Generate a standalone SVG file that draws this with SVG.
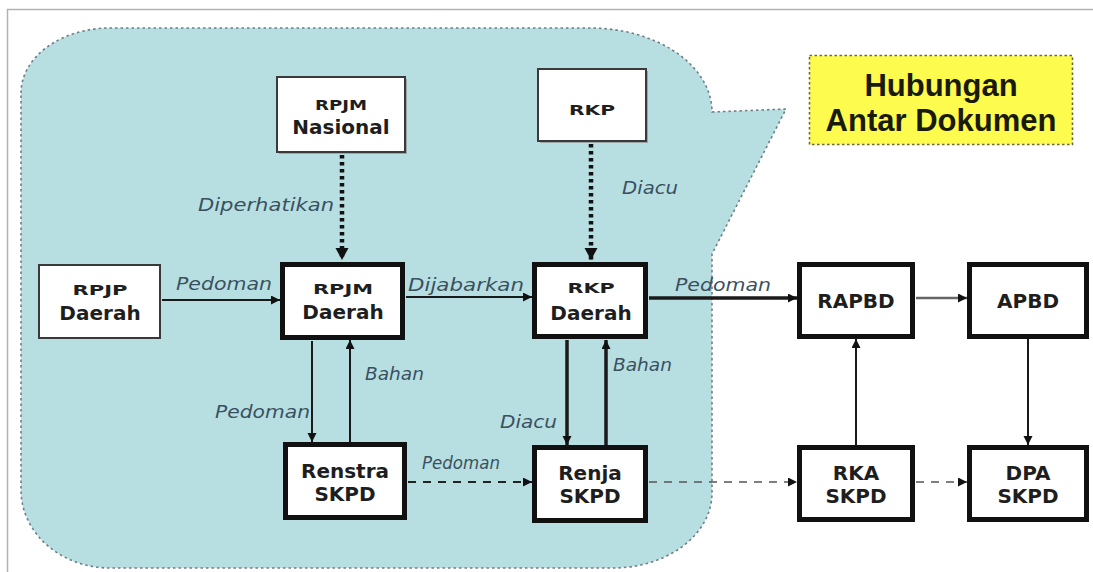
<svg xmlns="http://www.w3.org/2000/svg" width="1093" height="572" viewBox="0 0 1093 572">
<defs>
<style>
.frame{stroke:#b8b0b0;stroke-width:1.5;fill:none}
.callout{fill:#b7dfe2;stroke:#6e7f86;stroke-width:1.6;stroke-dasharray:2.5 3}
.thick{fill:#fff;stroke:#111;stroke-width:5}
.thin{fill:#fff;stroke:#3a3a3a;stroke-width:2}
.shadow{fill:#9aa6a8}
.nt{font-family:"DejaVu Sans",sans-serif;font-weight:bold;font-size:20px;fill:#1e1e1e;text-anchor:middle}
.ns{font-family:"DejaVu Sans",sans-serif;font-weight:bold;font-size:14px;fill:#1e1e1e;text-anchor:middle}
.lbl{font-family:"DejaVu Sans",sans-serif;font-style:italic;font-size:18px;fill:#3a5060}
.title{font-family:"Liberation Sans",Arial,sans-serif;font-weight:bold;font-size:31px;fill:#1a1a0a;text-anchor:middle}
.ln{fill:none;stroke:#1a1a1a;stroke-width:2}
.lnt{fill:none;stroke:#1a1a1a;stroke-width:3.5}
.dot{fill:none;stroke:#111;stroke-width:4.5;stroke-dasharray:3.5 3.5}
.dash{fill:none;stroke:#222;stroke-width:2;stroke-dasharray:8 7}
.dashl{fill:none;stroke:#555;stroke-width:1.5;stroke-dasharray:8 7}
</style>
<marker id="ah" markerUnits="userSpaceOnUse" markerWidth="10" markerHeight="10" refX="9" refY="4.5" orient="auto">
<path d="M0,0 L9,4.5 L0,9 z" fill="#111"/>
</marker>
<marker id="ahb" markerUnits="userSpaceOnUse" markerWidth="14" markerHeight="14" refX="12" refY="6.5" orient="auto">
<path d="M0,0 L12,6.5 L0,13 z" fill="#111"/>
</marker>
</defs>

<g id="frame">
<line class="frame" x1="7" y1="9.5" x2="1093" y2="9.5"/>
<line class="frame" x1="7.5" y1="9" x2="7.5" y2="572"/>
</g>

<g id="callout">
<path class="callout" d="M21,93 A89 65 0 0 1 110,28 L590,28 A122 84 0 0 1 712,112 L786,109 L712,254 L712,493 A99 75 0 0 1 613,568 L110,568 A89 78 0 0 1 21,490 Z"/>
</g>

<g id="title">
<rect x="809.5" y="55.5" width="263" height="89" fill="#fdfb4e" stroke="#6a6a40" stroke-width="1.6" stroke-dasharray="2.5 2.5"/>
<text class="title" x="941" y="96">Hubungan</text>
<text class="title" x="941" y="131">Antar Dokumen</text>
</g>

<g id="connectors">
<line class="dot" x1="342" y1="155" x2="342" y2="260" marker-end="url(#ahb)"/>
<line class="dot" x1="591" y1="144" x2="591" y2="260" marker-end="url(#ahb)"/>
<line class="ln" x1="162" y1="300" x2="280" y2="300" marker-end="url(#ah)"/>
<line class="ln" x1="406" y1="297" x2="532" y2="297" marker-end="url(#ah)"/>
<line class="lnt" x1="649" y1="298" x2="797" y2="298" marker-end="url(#ah)"/>
<line fill="none" stroke="#666" stroke-width="2.5" x1="916" y1="298" x2="967" y2="298" marker-end="url(#ah)"/>
<line class="ln" x1="312" y1="341" x2="312" y2="442" marker-end="url(#ah)"/>
<line class="ln" x1="350" y1="442" x2="350" y2="340" marker-end="url(#ah)"/>
<line class="lnt" x1="567" y1="340" x2="567" y2="445" marker-end="url(#ah)"/>
<line class="lnt" x1="606" y1="445" x2="606" y2="340" marker-end="url(#ah)"/>
<line class="ln" x1="856" y1="445" x2="856" y2="339" stroke-width="1.6" marker-end="url(#ah)"/>
<line class="ln" x1="1028" y1="339" x2="1028" y2="445" stroke-width="1.6" marker-end="url(#ah)"/>
<line class="dash" x1="408" y1="482" x2="532" y2="482" marker-end="url(#ah)"/>
<line class="dashl" x1="649" y1="482" x2="797" y2="482" marker-end="url(#ah)"/>
<line class="dashl" x1="916" y1="482" x2="967" y2="482" marker-end="url(#ah)"/>
<text class="lbl" x="334" y="211" text-anchor="end" textLength="136" lengthAdjust="spacingAndGlyphs">Diperhatikan</text>
<text class="lbl" x="622" y="194" textLength="56" lengthAdjust="spacingAndGlyphs">Diacu</text>
<text class="lbl" x="176" y="290" textLength="96" lengthAdjust="spacingAndGlyphs">Pedoman</text>
<text class="lbl" x="408" y="291" textLength="116" lengthAdjust="spacingAndGlyphs">Dijabarkan</text>
<text class="lbl" x="675" y="291" textLength="96" lengthAdjust="spacingAndGlyphs">Pedoman</text>
<text class="lbl" x="215" y="418" textLength="95" lengthAdjust="spacingAndGlyphs">Pedoman</text>
<text class="lbl" x="365" y="380" textLength="59" lengthAdjust="spacingAndGlyphs">Bahan</text>
<text class="lbl" x="500" y="428" textLength="57" lengthAdjust="spacingAndGlyphs">Diacu</text>
<text class="lbl" x="613" y="371" textLength="59" lengthAdjust="spacingAndGlyphs">Bahan</text>
<text class="lbl" x="422" y="469" font-size="16" textLength="78" lengthAdjust="spacingAndGlyphs">Pedoman</text>
</g>

<g id="rpjm-nasional">
<rect class="shadow" x="279" y="79" width="128" height="75"/>
<rect class="thin" x="277" y="77" width="128" height="75"/>
<text class="ns" x="341" y="110" font-size="15" textLength="52" lengthAdjust="spacingAndGlyphs">RPJM</text>
<text class="nt" x="341" y="134">Nasional</text>
</g>

<g id="rkp">
<rect class="shadow" x="540" y="71" width="108" height="72"/>
<rect class="thin" x="538" y="69" width="108" height="72"/>
<text class="ns" x="592" y="115" font-size="18" textLength="46" lengthAdjust="spacingAndGlyphs">RKP</text>
</g>

<g id="rpjp-daerah">
<rect class="thin" x="39" y="265" width="121" height="73"/>
<text class="ns" x="100" y="295" textLength="55" lengthAdjust="spacingAndGlyphs">RPJP</text>
<text class="nt" x="100" y="320">Daerah</text>
</g>

<g id="rpjm-daerah">
<rect class="thick" x="282.5" y="264.5" width="120" height="73"/>
<text class="ns" x="343" y="294" textLength="60" lengthAdjust="spacingAndGlyphs">RPJM</text>
<text class="nt" x="343" y="319">Daerah</text>
</g>

<g id="rkp-daerah">
<rect class="thick" x="534.5" y="264.5" width="111" height="72"/>
<text class="ns" x="591" y="293" textLength="47" lengthAdjust="spacingAndGlyphs">RKP</text>
<text class="nt" x="591" y="320">Daerah</text>
</g>

<g id="rapbd">
<rect class="thick" x="799.5" y="264.5" width="113" height="72"/>
<text class="nt" x="856" y="308">RAPBD</text>
</g>

<g id="apbd">
<rect class="thick" x="969.5" y="264.5" width="117" height="72"/>
<text class="nt" x="1028" y="308">APBD</text>
</g>

<g id="renstra-skpd">
<rect class="thick" x="285.5" y="444.5" width="119" height="73"/>
<text class="nt" x="345" y="478">Renstra</text>
<text class="nt" x="345" y="501">SKPD</text>
</g>

<g id="renja-skpd">
<rect class="thick" x="534.5" y="447.5" width="111" height="73"/>
<text class="nt" x="590" y="480">Renja</text>
<text class="nt" x="590" y="503">SKPD</text>
</g>

<g id="rka-skpd">
<rect class="thick" x="799.5" y="447.5" width="113" height="72"/>
<text class="nt" x="856" y="480">RKA</text>
<text class="nt" x="856" y="503">SKPD</text>
</g>

<g id="dpa-skpd">
<rect class="thick" x="969.5" y="447.5" width="117" height="72"/>
<text class="nt" x="1028" y="480">DPA</text>
<text class="nt" x="1028" y="503">SKPD</text>
</g>
</svg>
